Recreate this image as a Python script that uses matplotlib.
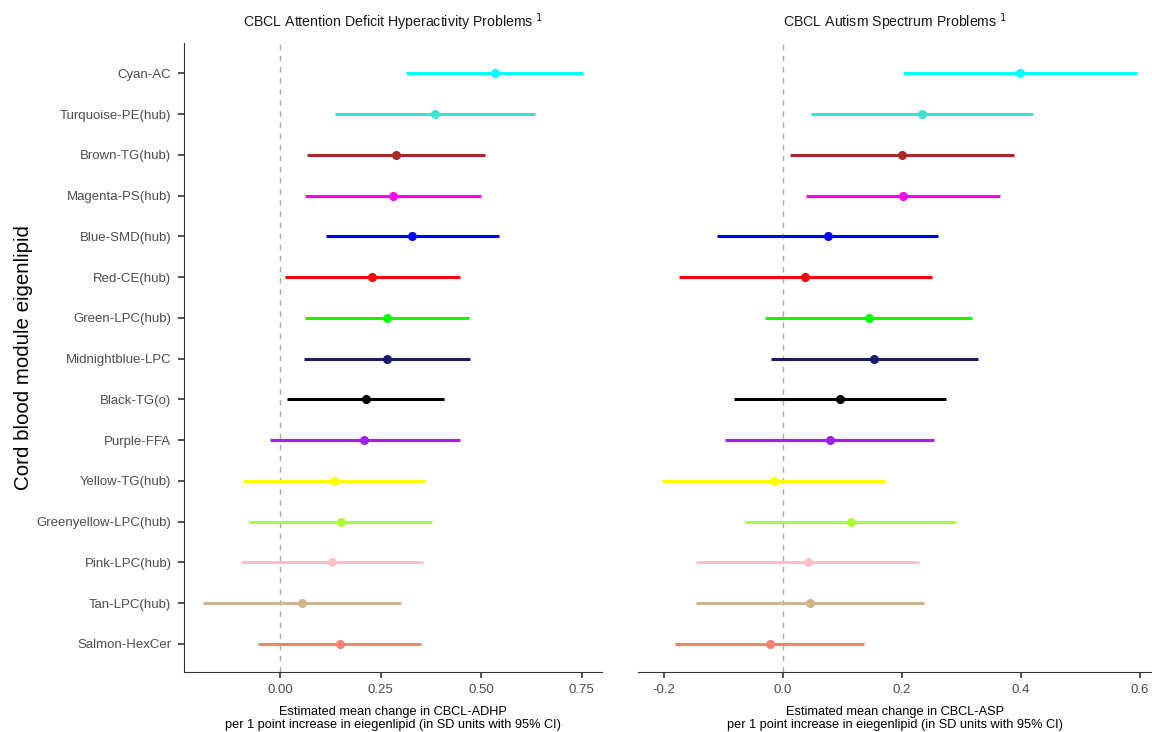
import matplotlib
matplotlib.use("Agg")
import matplotlib.pyplot as plt
import numpy as np

plt.rcParams['font.family'] = ['Liberation Sans', 'DejaVu Sans']

# modules, bottom to top
modules = ['Salmon-HexCer', 'Tan-LPC(hub)', 'Pink-LPC(hub)', 'Greenyellow-LPC(hub)',
           'Yellow-TG(hub)', 'Purple-FFA', 'Black-TG(o)', 'Midnightblue-LPC',
           'Green-LPC(hub)', 'Red-CE(hub)', 'Blue-SMD(hub)', 'Magenta-PS(hub)',
           'Brown-TG(hub)', 'Turquoise-PE(hub)', 'Cyan-AC']
cores = ['#FA8072', '#D2B48C', '#FFC0CB', '#ADFF2F', '#FFFF00', '#A020F0', '#000000',
         '#191970', '#00FF00', '#FF0000', '#0000FF', '#FF00FF', '#A52A2A', '#40E0D0',
         '#00FFFF']

# ADHP
adhp_est = [0.148, 0.055, 0.129, 0.151, 0.133, 0.210, 0.213, 0.266, 0.266, 0.229,
            0.329, 0.281, 0.288, 0.386, 0.534]
adhp_lo = [-0.055, -0.191, -0.098, -0.077, -0.092, -0.026, 0.018, 0.060, 0.062, 0.012,
           0.114, 0.062, 0.067, 0.136, 0.314]
adhp_hi = [0.350, 0.302, 0.356, 0.379, 0.360, 0.448, 0.408, 0.473, 0.471, 0.447,
           0.544, 0.500, 0.510, 0.635, 0.753]

# ASP
asp_est = [-0.021, 0.046, 0.043, 0.115, -0.015, 0.079, 0.096, 0.154, 0.145, 0.038,
           0.076, 0.202, 0.201, 0.234, 0.399]
asp_lo = [-0.180, -0.145, -0.145, -0.063, -0.203, -0.096, -0.081, -0.020, -0.029, -0.174,
          -0.110, 0.040, 0.013, 0.048, 0.202]
asp_hi = [0.137, 0.237, 0.230, 0.292, 0.173, 0.255, 0.274, 0.328, 0.318, 0.251,
          0.261, 0.365, 0.389, 0.421, 0.596]

fig = plt.figure(figsize=(11.52, 7.32), dpi=100)
ax1 = fig.add_axes([0.1597, 0.082, 0.3629, 0.859])
ax2 = fig.add_axes([0.5538, 0.082, 0.4462, 0.859])

y = np.arange(1, len(modules) + 1)

def painel(ax, est, lo, hi, titulo, xlab, xticks, xticklabels, xlim, mostrar_y):
    ax.axvline(0, color='#AAAAAA', ls=(0, (4, 4)), lw=1, zorder=1)
    for i in range(len(modules)):
        ax.plot([lo[i], hi[i]], [y[i], y[i]], color=cores[i], lw=2.2,
                solid_capstyle='butt', zorder=2)
        ax.plot(est[i], y[i], 'o', color=cores[i], ms=5.5, zorder=3)
    ax.set_xlim(xlim)
    ax.set_ylim(0.31, 15.74)
    ax.set_xticks(xticks)
    ax.set_xticklabels(xticklabels)
    ax.set_title(titulo, fontsize=10.2, pad=12, color='#1A1A1A')
    ax.set_xlabel(xlab, fontsize=9.2, labelpad=7, linespacing=1.05)
    for s in ['top', 'right']:
        ax.spines[s].set_visible(False)
    ax.spines['bottom'].set_color('#333333')
    ax.spines['left'].set_color('#333333')
    ax.tick_params(axis='both', colors='#333333', labelcolor='#4D4D4D',
                   labelsize=9.5, length=4, width=1.2, pad=5)
    if mostrar_y:
        ax.set_yticks(y)
        ax.set_yticklabels(modules)
        ax.set_ylabel('Cord blood module eigenlipid', fontsize=14.8, labelpad=3)
    else:
        ax.set_yticks([])
        ax.spines['left'].set_visible(False)

painel(ax1, adhp_est, adhp_lo, adhp_hi,
       'CBCL Attention Deficit Hyperactivity Problems $^{1}$',
       'Estimated mean change in CBCL-ADHP\nper 1 point increase in eiegenlipid (in SD units with 95% CI)',
       [0, 0.25, 0.5, 0.75], ['0.00', '0.25', '0.50', '0.75'], (-0.239, 0.801), True)
painel(ax2, asp_est, asp_lo, asp_hi,
       'CBCL Autism Spectrum Problems $^{1}$',
       'Estimated mean change in CBCL-ASP\nper 1 point increase in eiegenlipid (in SD units with 95% CI)',
       [-0.2, 0, 0.2, 0.4, 0.6], ['-0.2', '0.0', '0.2', '0.4', '0.6'], (-0.243, 0.621), False)

fig.savefig('out.png', dpi=100)
